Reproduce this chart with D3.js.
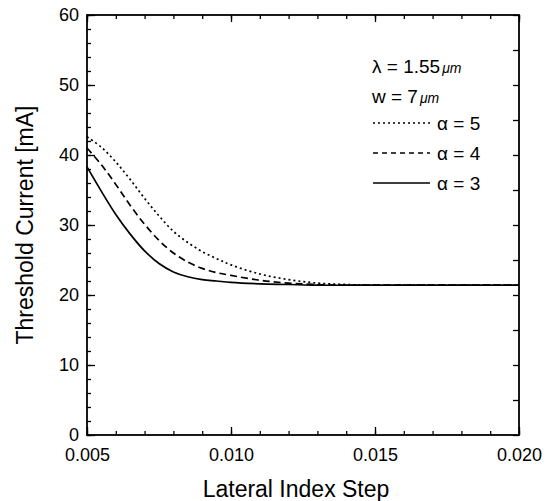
<!DOCTYPE html>
<html>
<head>
<meta charset="utf-8">
<script src="https://cdn.jsdelivr.net/npm/d3@7"></script>
<style>
  body { margin: 0; background: #fff; }
  svg { display: block; font-family: "Liberation Sans", Arial, sans-serif; }
</style>
</head>
<body>
<svg id="chart" width="553" height="501"></svg>
<script>
// Lateral index step values (x) shared by all curves
const indexSteps = [0.005, 0.0055, 0.006, 0.0065, 0.007, 0.0075, 0.008, 0.0085, 0.009, 0.0095,
  0.010, 0.011, 0.012, 0.013, 0.014, 0.015, 0.016, 0.017, 0.018, 0.019, 0.020];

// Threshold current [mA] for each alpha
const alpha5 = [42.6, 41.1, 39.0, 36.5, 33.8, 31.3, 29.1, 27.5, 26.2, 25.2,
  24.3, 23.0, 22.2, 21.7, 21.5, 21.4, 21.4, 21.4, 21.4, 21.4, 21.4];
const alpha4 = [41.0, 38.6, 35.8, 32.8, 30.1, 27.8, 26.0, 24.7, 23.8, 23.2,
  22.8, 22.1, 21.7, 21.5, 21.4, 21.4, 21.4, 21.4, 21.4, 21.4, 21.4];
const alpha3 = [38.3, 34.8, 31.5, 28.7, 26.3, 24.5, 23.3, 22.6, 22.2, 22.0,
  21.8, 21.6, 21.5, 21.4, 21.4, 21.4, 21.4, 21.4, 21.4, 21.4, 21.4];

const xTicks = [0.005, 0.010, 0.015, 0.020];
const yTicks = [0, 10, 20, 30, 40, 50, 60];

const seriesList = [
  { name: '5', values: alpha5, dash: '2,3' },
  { name: '4', values: alpha4, dash: '7,4' },
  { name: '3', values: alpha3, dash: null }
];

const svg = d3.select('#chart');
const margin = { left: 87, right: 34, top: 15, bottom: 66 };
const width = 553, height = 501;

const x = d3.scaleLinear().domain([0.005, 0.020]).range([margin.left, width - margin.right]);
const y = d3.scaleLinear().domain([0, 60]).range([height - margin.bottom, margin.top]);

// Minor ticks
const xMinor = d3.range(0.005, 0.02001, 0.001);
const yMinor = d3.range(0, 60.01, 2);
const yRight = d3.range(0, 60.01, 5);

// Bottom axis
svg.append('g')
  .attr('transform', `translate(0,${y(0)})`)
  .call(d3.axisBottom(x).tickValues(xMinor).tickSize(-4).tickFormat(''))
  .call(g => g.select('.domain').remove());
svg.append('g')
  .attr('transform', `translate(0,${y(0)})`)
  .call(d3.axisBottom(x).tickValues(xTicks).tickSize(-8).tickPadding(13).tickFormat(d3.format('.3f')))
  .call(g => g.select('.domain').remove())
  .call(g => g.selectAll('text').attr('font-size', '18px').attr('fill', '#000'));

// Top axis
svg.append('g')
  .attr('transform', `translate(0,${y(60)})`)
  .call(d3.axisTop(x).tickValues(xMinor).tickSize(-4).tickFormat(''))
  .call(g => g.select('.domain').remove());
svg.append('g')
  .attr('transform', `translate(0,${y(60)})`)
  .call(d3.axisTop(x).tickValues(xTicks).tickSize(-7).tickFormat(''))
  .call(g => g.select('.domain').remove());

// Left axis
svg.append('g')
  .attr('transform', `translate(${x(0.005)},0)`)
  .call(d3.axisLeft(y).tickValues(yMinor).tickSize(-4).tickFormat(''))
  .call(g => g.select('.domain').remove());
svg.append('g')
  .attr('transform', `translate(${x(0.005)},0)`)
  .call(d3.axisLeft(y).tickValues(yTicks).tickSize(-8).tickPadding(8))
  .call(g => g.select('.domain').remove())
  .call(g => g.selectAll('text').attr('font-size', '18px').attr('fill', '#000'));

// Right axis
svg.append('g')
  .attr('transform', `translate(${x(0.020)},0)`)
  .call(d3.axisRight(y).tickValues(yRight).tickSize(-6).tickFormat(''))
  .call(g => g.select('.domain').remove());

svg.selectAll('.tick line').attr('stroke', '#000').attr('stroke-width', 1.3);

// Frame
svg.append('rect')
  .attr('x', x(0.005)).attr('y', y(60))
  .attr('width', x(0.020) - x(0.005)).attr('height', y(0) - y(60))
  .attr('fill', 'none').attr('stroke', '#000').attr('stroke-width', 1.8);

// Curves
const line = d3.line()
  .x((d, i) => x(indexSteps[i]))
  .y(d => y(d))
  .curve(d3.curveCatmullRom.alpha(0.5));

svg.selectAll('.curve')
  .data(seriesList)
  .join('path')
  .attr('class', 'curve')
  .attr('d', d => line(d.values))
  .attr('fill', 'none')
  .attr('stroke', '#000')
  .attr('stroke-width', 1.7)
  .attr('stroke-dasharray', d => d.dash);

// Axis titles
svg.append('text')
  .attr('x', 296)
  .attr('y', 497)
  .attr('text-anchor', 'middle')
  .attr('font-size', '23px')
  .text('Lateral Index Step');

svg.append('text')
  .attr('transform', `translate(33,${(y(0) + y(60)) / 2}) rotate(-90)`)
  .attr('text-anchor', 'middle')
  .attr('font-size', '23px')
  .text('Threshold Current [mA]');

// Legend / annotations
const lam = svg.append('text').attr('x', 372).attr('y', 73).attr('font-size', '19px');
lam.append('tspan').text('λ = 1.55');
lam.append('tspan').attr('font-size', '14px').attr('font-style', 'italic').attr('dx', 2).text('μm');

const wText = svg.append('text').attr('x', 372).attr('y', 103).attr('font-size', '19px');
wText.append('tspan').text('w = 7');
wText.append('tspan').attr('font-size', '14px').attr('font-style', 'italic').attr('dx', 2).text('μm');

const legend = svg.selectAll('.legend-item')
  .data(seriesList)
  .join('g')
  .attr('class', 'legend-item')
  .attr('transform', (d, i) => `translate(373,${123 + i * 30})`);

legend.append('line')
  .attr('x1', 0).attr('x2', 57)
  .attr('stroke', '#000').attr('stroke-width', 1.3)
  .attr('stroke-dasharray', d => d.dash === '7,4' ? '5,4' : d.dash);

legend.append('text')
  .attr('x', 64).attr('y', 7)
  .attr('font-size', '19px')
  .text(d => `α = ${d.name}`);
</script>
</body>
</html>
